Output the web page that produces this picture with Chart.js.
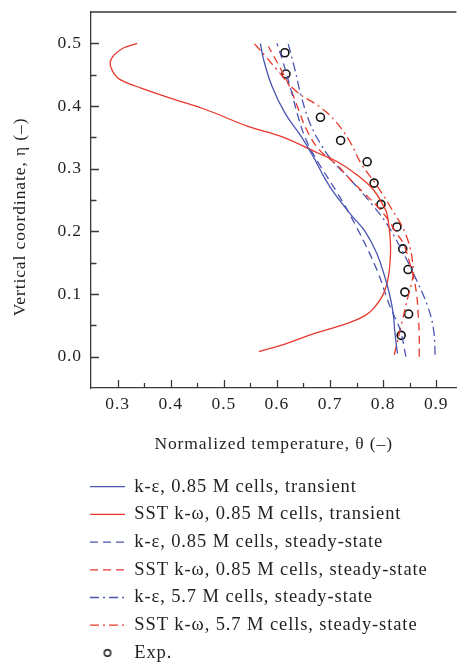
<!DOCTYPE html>
<html>
<head>
<meta charset="utf-8">
<script src="https://cdn.jsdelivr.net/npm/chart.js@4/dist/chart.umd.min.js"></script>
<style>
  html, body { margin: 0; padding: 0; background: #ffffff; }
  #wrap { width: 462px; height: 662px; }
</style>
</head>
<body>
<div id="wrap"><canvas id="c" width="462" height="662"></canvas></div>
<script>
// ---- axis ticks ----
const xTicks = [0.3, 0.4, 0.5, 0.6, 0.7, 0.8, 0.9];
const xMinorTicks = [0.35, 0.45, 0.55, 0.65, 0.75, 0.85];
const yTicks = [0.0, 0.1, 0.2, 0.3, 0.4, 0.5];
const yMinorTicks = [0.05, 0.15, 0.25, 0.35, 0.45];

// ---- axis titles ----
const xTitle = 'Normalized temperature, θ (–)';
const yTitle = 'Vertical coordinate, η (–)';

// ---- series names ----
const seriesNames = [
  'k-ε, 0.85 M cells, transient',
  'SST k-ω, 0.85 M cells, transient',
  'k-ε, 0.85 M cells, steady-state',
  'SST k-ω, 0.85 M cells, steady-state',
  'k-ε, 5.7 M cells, steady-state',
  'SST k-ω, 5.7 M cells, steady-state',
  'Exp.'
];

// ---- k-epsilon, 0.85 M cells, transient ----
const keTransEta   = [0.005, 0.040, 0.069, 0.100, 0.128, 0.165, 0.200, 0.224, 0.261, 0.285, 0.320, 0.351, 0.389, 0.431, 0.474, 0.500];
const keTransTheta = [0.827, 0.822, 0.819, 0.812, 0.803, 0.788, 0.766, 0.742, 0.708, 0.690, 0.668, 0.646, 0.615, 0.591, 0.575, 0.569];

// ---- SST k-omega, 0.85 M cells, transient ----
const sstTransEta   = [0.008, 0.020, 0.037, 0.053, 0.065, 0.077, 0.101, 0.128, 0.165, 0.192, 0.229, 0.240, 0.266, 0.290, 0.311, 0.325, 0.351, 0.367, 0.394, 0.411, 0.429, 0.439, 0.445, 0.455, 0.469, 0.482, 0.493, 0.500];
const sstTransTheta = [0.566, 0.615, 0.671, 0.733, 0.765, 0.782, 0.801, 0.810, 0.814, 0.813, 0.807, 0.801, 0.782, 0.751, 0.714, 0.677, 0.609, 0.547, 0.467, 0.405, 0.343, 0.312, 0.300, 0.291, 0.286, 0.294, 0.312, 0.337];

// ---- k-epsilon, 0.85 M cells, steady-state ----
const keSteadyEta   = [0.000, 0.043, 0.080, 0.139, 0.205, 0.261, 0.311, 0.346, 0.383, 0.421, 0.469, 0.500];
const keSteadyTheta = [0.843, 0.832, 0.813, 0.788, 0.751, 0.714, 0.677, 0.655, 0.640, 0.628, 0.612, 0.600];

// ---- SST k-omega, 0.85 M cells, steady-state ----
const sstSteadyEta   = [0.000, 0.035, 0.069, 0.100, 0.128, 0.150, 0.181, 0.197, 0.218, 0.240, 0.261, 0.282, 0.305, 0.330, 0.362, 0.396, 0.429, 0.461, 0.495];
const sstSteadyTheta = [0.868, 0.868, 0.866, 0.863, 0.857, 0.850, 0.838, 0.825, 0.810, 0.789, 0.764, 0.739, 0.714, 0.680, 0.656, 0.640, 0.625, 0.606, 0.584];

// ---- k-epsilon, 5.7 M cells, steady-state ----
const keFineEta   = [0.003, 0.043, 0.080, 0.133, 0.170, 0.208, 0.240, 0.282, 0.315, 0.340, 0.373, 0.415, 0.458, 0.500];
const keFineTheta = [0.898, 0.895, 0.884, 0.857, 0.835, 0.810, 0.782, 0.739, 0.702, 0.682, 0.662, 0.646, 0.634, 0.621];

// ---- SST k-omega, 5.7 M cells, steady-state ----
const sstFineEta   = [0.003, 0.053, 0.096, 0.115, 0.139, 0.192, 0.240, 0.272, 0.309, 0.341, 0.375, 0.399, 0.423, 0.458, 0.478, 0.500];
const sstFineTheta = [0.821, 0.835, 0.847, 0.853, 0.857, 0.844, 0.813, 0.789, 0.758, 0.739, 0.711, 0.680, 0.637, 0.600, 0.580, 0.557];

// ---- measurements ----
const expEta   = [0.034, 0.068, 0.103, 0.139, 0.172, 0.207, 0.243, 0.277, 0.311, 0.345, 0.382, 0.451, 0.485];
const expTheta = [0.834, 0.848, 0.841, 0.847, 0.837, 0.826, 0.796, 0.783, 0.770, 0.720, 0.682, 0.617, 0.615];

// ---- styling ----
const BLUE = '#4a55b2';
const RED = '#e8382b';
const INK = '#231f20';
const AXIS = '#3a3a3a';
const SOLID = [];
const DASHED = [8, 5];
const DASHDOT = [9, 4, 2, 4];
const SERIF = '"Liberation Serif", "Times New Roman", serif';
const SPACING = '0.9px';
const LABEL_SIZE = 17.5;

const toPoints = (theta, eta) => theta.map((t, i) => ({ x: t, y: eta[i] }));

const curve = (label, theta, eta, color, dash) => ({
  label,
  data: toPoints(theta, eta),
  showLine: true,
  borderColor: color,
  backgroundColor: color,
  borderWidth: 1.3,
  borderDash: dash,
  pointRadius: 0,
  pointHoverRadius: 0,
  tension: 0.4,
  fill: false
});

// small open circle used for the measurement entry of the legend
const expIcon = document.createElement('canvas');
expIcon.width = 12; expIcon.height = 12;
(() => {
  const g = expIcon.getContext('2d');
  g.strokeStyle = '#111';
  g.lineWidth = 1.4;
  g.beginPath();
  g.arc(6, 6, 3.2, 0, Math.PI * 2);
  g.stroke();
})();

const LEGEND_FONT = 18.5;
const LEGEND_PAD = 9.2;

const axisDecor = {
  id: 'axisDecor',
  beforeLayout(chart) { chart.ctx.letterSpacing = SPACING; },
  beforeDraw(chart) { chart.ctx.letterSpacing = SPACING; },
  afterLayout(chart) {
    // place the legend block under the x-axis title, left aligned with the plot
    const lg = chart.legend;
    const dx = 90 - LEGEND_PAD - lg.left;
    lg.left += dx; lg.right += dx;
    const dy = 486.7 - LEGEND_FONT / 2 - LEGEND_PAD - lg.top;
    lg.top += dy; lg.bottom += dy;
  },
  afterDraw(chart) {
    const { ctx, chartArea: { left, right, top, bottom } } = chart;
    const xs = chart.scales.x, ys = chart.scales.y;
    ctx.save();
    // frame top edge and inward tick marks
    ctx.strokeStyle = AXIS;
    ctx.lineWidth = 1.3;
    ctx.beginPath();
    ctx.moveTo(left, top); ctx.lineTo(right, top);
    const tickX = (v, len) => { const p = Math.round(xs.getPixelForValue(v)) + 0.5; ctx.moveTo(p, bottom); ctx.lineTo(p, bottom - len); };
    const tickY = (v, len) => { const p = Math.round(ys.getPixelForValue(v)) + 0.5; ctx.moveTo(left, p); ctx.lineTo(left + len, p); };
    xTicks.forEach(v => tickX(v, 8));
    xMinorTicks.forEach(v => tickX(v, 5));
    yTicks.forEach(v => tickY(v, 8));
    yMinorTicks.forEach(v => tickY(v, 5.5));
    ctx.stroke();

    // vertical axis title, rotated, measured so its middle sits slightly below the plot centre
    ctx.letterSpacing = SPACING;
    ctx.font = `${LABEL_SIZE}px ${SERIF}`;
    ctx.fillStyle = INK;
    ctx.textAlign = 'left';
    ctx.textBaseline = 'middle';
    const w = ctx.measureText(yTitle).width;
    const cy = (top + bottom) / 2 + 17;
    ctx.translate(20, cy + w / 2);
    ctx.rotate(-Math.PI / 2);
    ctx.fillText(yTitle, 0, 0);
    ctx.restore();
  }
};

new Chart(document.getElementById('c'), {
  type: 'scatter',
  data: {
    datasets: [
      curve(seriesNames[0], keTransTheta, keTransEta, BLUE, SOLID),
      curve(seriesNames[1], sstTransTheta, sstTransEta, RED, SOLID),
      curve(seriesNames[2], keSteadyTheta, keSteadyEta, BLUE, DASHED),
      curve(seriesNames[3], sstSteadyTheta, sstSteadyEta, RED, DASHED),
      curve(seriesNames[4], keFineTheta, keFineEta, BLUE, DASHDOT),
      curve(seriesNames[5], sstFineTheta, sstFineEta, RED, DASHDOT),
      {
        label: seriesNames[6],
        data: toPoints(expTheta, expEta),
        showLine: false,
        pointStyle: 'circle',
        pointRadius: 4,
        pointHoverRadius: 4,
        pointBorderWidth: 1.6,
        pointBorderColor: '#111',
        pointBackgroundColor: 'rgba(0,0,0,0)',
        borderColor: '#111',
        backgroundColor: 'rgba(0,0,0,0)'
      }
    ]
  },
  options: {
    responsive: false,
    animation: false,
    events: [],
    layout: { padding: { left: 0, right: 0, top: 12, bottom: 0 } },
    plugins: {
      tooltip: { enabled: false },
      legend: {
        position: 'bottom',
        align: 'start',
        fullSize: false,
        labels: {
          usePointStyle: true,
          pointStyleWidth: 35,
          boxHeight: 10,
          padding: LEGEND_PAD,
          color: INK,
          font: { family: SERIF, size: LEGEND_FONT },
          generateLabels(chart) {
            return chart.data.datasets.map((d, i) => ({
              text: d.label,
              fillStyle: 'rgba(0,0,0,0)',
              strokeStyle: d.borderColor,
              lineWidth: d.showLine ? d.borderWidth : 1.4,
              lineDash: d.showLine ? d.borderDash : [],
              lineCap: 'butt',
              pointStyle: d.showLine ? 'line' : expIcon,
              fontColor: INK,
              hidden: false,
              datasetIndex: i
            }));
          }
        }
      }
    },
    scales: {
      x: {
        type: 'linear',
        position: 'bottom',
        min: 0.25,
        max: 0.938,
        afterBuildTicks(s) { s.ticks = xTicks.map(v => ({ value: v })); },
        afterFit(s) { s.height = 70.1; s.paddingLeft = 0; s.paddingRight = 0; },
        grid: { display: true, drawOnChartArea: false, drawTicks: false },
        border: { display: true, color: AXIS, width: 1.3 },
        ticks: {
          padding: 6,
          color: INK,
          font: { family: SERIF, size: LABEL_SIZE },
          maxRotation: 0,
          autoSkip: false,
          callback: v => v.toFixed(1)
        },
        title: {
          display: true,
          text: xTitle,
          color: INK,
          font: { family: SERIF, size: LABEL_SIZE },
          padding: { top: 0, bottom: 3.5 }
        }
      },
      y: {
        type: 'linear',
        position: 'left',
        min: -0.05,
        max: 0.55,
        afterBuildTicks(s) { s.ticks = yTicks.map(v => ({ value: v })); },
        afterFit(s) { s.width = 91; s.paddingTop = 0; s.paddingBottom = 0; },
        grid: { display: true, drawOnChartArea: false, drawTicks: false },
        border: { display: true, color: AXIS, width: 1.3 },
        ticks: {
          padding: 9,
          color: INK,
          font: { family: SERIF, size: LABEL_SIZE },
          autoSkip: false,
          callback: v => v.toFixed(1)
        },
        title: { display: false, text: yTitle }
      }
    }
  },
  plugins: [axisDecor]
});
</script>
</body>
</html>
